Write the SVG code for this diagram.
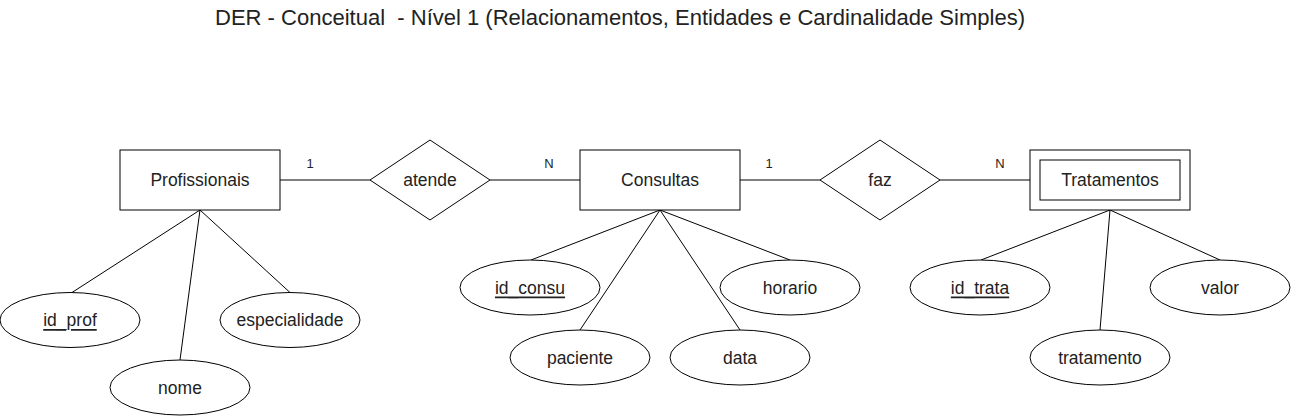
<svg xmlns="http://www.w3.org/2000/svg" width="1291" height="416" viewBox="0 0 1291 416">
<style>
  .shape { fill: #ffffff; stroke: #000000; stroke-width: 1; }
  .conn { stroke: #000000; stroke-width: 1; fill: none; }
  text { font-family: "Liberation Sans", Arial, sans-serif; fill: #222222; }
  .lbl { font-size: 17.5px; text-anchor: middle; dominant-baseline: central; }
  .card { font-size: 13px; text-anchor: middle; }
  .key { text-decoration: underline; }
  .title { font-size: 22px; text-anchor: middle; white-space: pre; }
</style>
<rect x="0" y="0" width="1291" height="416" fill="#ffffff"/>
<text class="title" x="620" y="25" textLength="810" lengthAdjust="spacingAndGlyphs" xml:space="preserve">DER - Conceitual  - Nível 1 (Relacionamentos, Entidades e Cardinalidade Simples)</text>

<g id="connectors">
  <line class="conn" x1="280" y1="180" x2="370" y2="180"/>
  <line class="conn" x1="490" y1="180" x2="580" y2="180"/>
  <line class="conn" x1="740" y1="180" x2="820" y2="180"/>
  <line class="conn" x1="940" y1="180" x2="1030" y2="180"/>
  <line class="conn" x1="200" y1="210" x2="72" y2="292.5"/>
  <line class="conn" x1="200" y1="210" x2="180" y2="360"/>
  <line class="conn" x1="200" y1="210" x2="290" y2="292.5"/>
  <line class="conn" x1="660" y1="210" x2="531" y2="260"/>
  <line class="conn" x1="660" y1="210" x2="580" y2="330"/>
  <line class="conn" x1="660" y1="210" x2="740" y2="330"/>
  <line class="conn" x1="660" y1="210" x2="790" y2="260"/>
  <line class="conn" x1="1110" y1="210" x2="981" y2="260"/>
  <line class="conn" x1="1110" y1="210" x2="1100" y2="330"/>
  <line class="conn" x1="1110" y1="210" x2="1220" y2="260"/>
  <text class="card" x="310" y="168">1</text>
  <text class="card" x="549" y="168">N</text>
  <text class="card" x="769" y="168">1</text>
  <text class="card" x="1000" y="168">N</text>
</g>

<g id="profissionais">
  <rect class="shape" x="120" y="150" width="160" height="60"/>
  <text class="lbl" x="200" y="180">Profissionais</text>
</g>
<g id="atende">
  <polygon class="shape" points="430,140 490,180 430,220 370,180"/>
  <text class="lbl" x="430" y="180">atende</text>
</g>
<g id="consultas">
  <rect class="shape" x="580" y="150" width="160" height="60"/>
  <text class="lbl" x="660" y="180">Consultas</text>
</g>
<g id="faz">
  <polygon class="shape" points="880,140 940,180 880,220 820,180"/>
  <text class="lbl" x="880" y="180">faz</text>
</g>
<g id="tratamentos">
  <rect class="shape" x="1030" y="150" width="160" height="60"/>
  <rect class="shape" x="1040" y="160" width="140" height="40"/>
  <text class="lbl" x="1110" y="180">Tratamentos</text>
</g>

<g id="id_prof">
  <ellipse class="shape" cx="70" cy="320" rx="70" ry="27.5"/>
  <text class="lbl key" x="70" y="320">id_prof</text>
</g>
<g id="nome">
  <ellipse class="shape" cx="180" cy="387.5" rx="70" ry="27.5"/>
  <text class="lbl" x="180" y="387.5">nome</text>
</g>
<g id="especialidade">
  <ellipse class="shape" cx="290" cy="320" rx="70" ry="27.5"/>
  <text class="lbl" x="290" y="320">especialidade</text>
</g>

<g id="id_consu">
  <ellipse class="shape" cx="530" cy="287.5" rx="70" ry="27.5"/>
  <text class="lbl key" x="530" y="287.5">id_consu</text>
</g>
<g id="horario">
  <ellipse class="shape" cx="790" cy="287.5" rx="70" ry="27.5"/>
  <text class="lbl" x="790" y="287.5">horario</text>
</g>
<g id="paciente">
  <ellipse class="shape" cx="580" cy="357.5" rx="70" ry="27.5"/>
  <text class="lbl" x="580" y="357.5">paciente</text>
</g>
<g id="data">
  <ellipse class="shape" cx="740" cy="357.5" rx="70" ry="27.5"/>
  <text class="lbl" x="740" y="357.5">data</text>
</g>

<g id="id_trata">
  <ellipse class="shape" cx="980" cy="287.5" rx="70" ry="27.5"/>
  <text class="lbl key" x="980" y="287.5">id_trata</text>
</g>
<g id="tratamento">
  <ellipse class="shape" cx="1100" cy="357.5" rx="70" ry="27.5"/>
  <text class="lbl" x="1100" y="357.5">tratamento</text>
</g>
<g id="valor">
  <ellipse class="shape" cx="1220" cy="287.5" rx="70" ry="27.5"/>
  <text class="lbl" x="1220" y="287.5">valor</text>
</g>
</svg>
